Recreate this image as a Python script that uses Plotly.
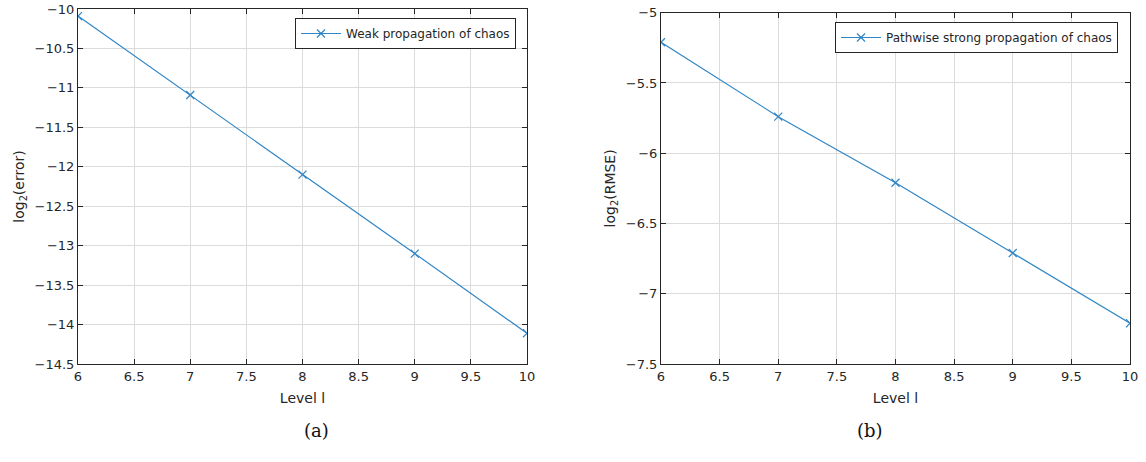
import plotly.graph_objects as go

levels = [6, 7, 8, 9, 10]
weak_err = [-10.09, -11.09, -12.10, -13.10, -14.11]
strong_rmse = [-5.21, -5.74, -6.21, -6.71, -7.21]
x_ticks = [6, 6.5, 7, 7.5, 8, 8.5, 9, 9.5, 10]
y_ticks_a = [-14.5, -14, -13.5, -13, -12.5, -12, -11.5, -11, -10.5, -10]
y_ticks_b = [-7.5, -7, -6.5, -6, -5.5, -5]

W, H = 1146, 462
BLUE = "#2f86c6"
DARK = "#262626"
GRID = "#dcdcdc"
FONT = "DejaVu Sans"

def px(v):
    return v / W

def py(v):
    return (H - v) / H

fig = go.Figure()
fig.add_trace(go.Scatter(x=levels, y=weak_err, mode="lines+markers",
                         name="Weak propagation of chaos",
                         line=dict(color=BLUE, width=1.2),
                         marker=dict(symbol="x-thin", size=8, line=dict(color=BLUE, width=1.2)),
                         xaxis="x", yaxis="y", legend="legend"))
fig.add_trace(go.Scatter(x=levels, y=strong_rmse, mode="lines+markers",
                         name="Pathwise strong propagation of chaos",
                         line=dict(color=BLUE, width=1.2),
                         marker=dict(symbol="x-thin", size=8, line=dict(color=BLUE, width=1.2)),
                         xaxis="x2", yaxis="y2", legend="legend2"))

axis_common = dict(showline=True, linecolor=DARK, linewidth=1, mirror="allticks",
                   ticks="inside", ticklen=5, tickcolor=DARK, showgrid=True,
                   gridcolor=GRID, gridwidth=1, zeroline=False, automargin=False,
                   tickfont=dict(family=FONT, size=13, color=DARK))

fig.update_layout(
    width=W, height=H, margin=dict(l=0, r=0, t=0, b=0),
    paper_bgcolor="white", plot_bgcolor="white",
    font=dict(family=FONT, color=DARK),
    xaxis=dict(domain=[px(78), px(527)], range=[6, 10], tickvals=x_ticks,
               anchor="y", title=dict(text="Level l", font=dict(size=14), standoff=10),
               **axis_common),
    yaxis=dict(domain=[py(364), py(9)], range=[-14.5, -10], tickvals=y_ticks_a,
               anchor="x", title=dict(text="log<sub>2</sub>(error)", font=dict(size=14), standoff=6),
               **axis_common),
    xaxis2=dict(domain=[px(661), px(1130)], range=[6, 10], tickvals=x_ticks,
                anchor="y2", title=dict(text="Level l", font=dict(size=14), standoff=10),
                **axis_common),
    yaxis2=dict(domain=[py(364), py(12.7)], range=[-7.5, -5], tickvals=y_ticks_b,
                anchor="x2", title=dict(text="log<sub>2</sub>(RMSE)", font=dict(size=14), standoff=6),
                **axis_common),
    legend=dict(x=px(516), y=py(18), xanchor="right", yanchor="top",
                bgcolor="white", bordercolor=DARK, borderwidth=1,
                font=dict(family=FONT, size=12, color=DARK),
                tracegroupgap=0, itemwidth=40),
    legend2=dict(x=px(1118), y=py(22), xanchor="right", yanchor="top",
                 bgcolor="white", bordercolor=DARK, borderwidth=1,
                 font=dict(family=FONT, size=12, color=DARK),
                 tracegroupgap=0, itemwidth=40),
    showlegend=True,
)

fig.add_annotation(text="(a)", x=px(302), y=py(443), xref="paper", yref="paper",
                   showarrow=False, font=dict(family="DejaVu Serif", size=18, color="#111111"))
fig.add_annotation(text="(b)", x=px(885), y=py(443), xref="paper", yref="paper",
                   showarrow=False, font=dict(family="DejaVu Serif", size=18, color="#111111"))

fig.write_html("out.html", config={"displayModeBar": False},
               post_script="document.body.style.margin='0';document.body.style.padding='0';")
